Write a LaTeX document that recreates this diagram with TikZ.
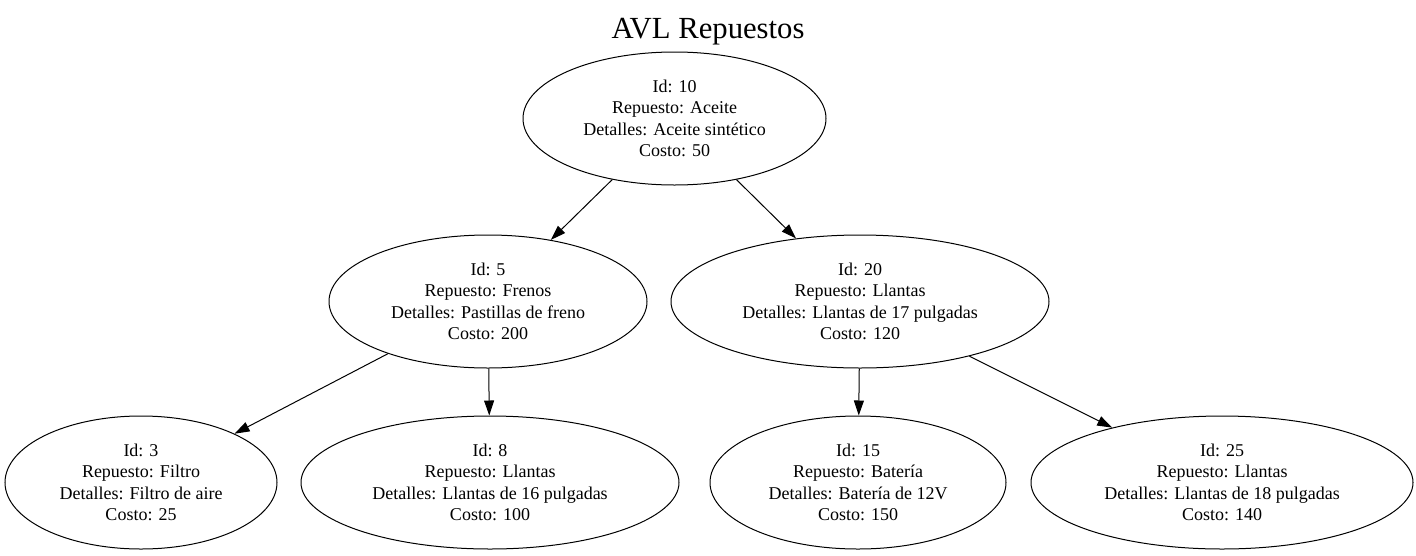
\documentclass[tikz,border=0pt]{standalone}
\usepackage{fontspec}
\setmainfont{Liberation Serif}
\usetikzlibrary{shapes.geometric,arrows.meta}

\tikzset{every picture/.style={line width=1pt}}
\tikzset{repuesto/.style={draw, ellipse, inner sep=0pt, align=center, font=\fontsize{18}{21.3}\selectfont}}
\tikzset{flecha/.style={-{Triangle[length=15pt,width=10pt]}, line width=1pt}}

\begin{document}
\begin{tikzpicture}[x=1pt,y=1pt,yscale=-1,xscale=1]
\useasboundingbox (0,0) rectangle (1416,555);

% Title
\node (titulo) at (708,32) [inner sep=0pt] {\fontsize{30.7}{36}\selectfont AVL Repuestos};

% Ellipse [id10]
\node (n10) at (674.5,118.5) [repuesto, minimum width=303, minimum height=133] {Id: 10\\Repuesto: Aceite\\Detalles: Aceite sintético\\Costo: 50};
% Ellipse [id5]
\node (n5) at (488,301.5) [repuesto, minimum width=318, minimum height=133] {Id: 5\\Repuesto: Frenos\\Detalles: Pastillas de freno\\Costo: 200};
% Ellipse [id20]
\node (n20) at (860,301.5) [repuesto, minimum width=378, minimum height=133] {Id: 20\\Repuesto: Llantas\\Detalles: Llantas de 17 pulgadas\\Costo: 120};
% Ellipse [id3]
\node (n3) at (141,482.5) [repuesto, minimum width=272, minimum height=133] {Id: 3\\Repuesto: Filtro\\Detalles: Filtro de aire\\Costo: 25};
% Ellipse [id8]
\node (n8) at (490,482.5) [repuesto, minimum width=378, minimum height=133] {Id: 8\\Repuesto: Llantas\\Detalles: Llantas de 16 pulgadas\\Costo: 100};
% Ellipse [id15]
\node (n15) at (858,482.5) [repuesto, minimum width=296, minimum height=133] {Id: 15\\Repuesto: Batería\\Detalles: Batería de 12V\\Costo: 150};
% Ellipse [id25]
\node (n25) at (1222,482.5) [repuesto, minimum width=382, minimum height=133] {Id: 25\\Repuesto: Llantas\\Detalles: Llantas de 18 pulgadas\\Costo: 140};

%Straight Lines
\draw [flecha] (n10) -- (n5);
\draw [flecha] (n10) -- (n20);
\draw [flecha] (n5) -- (n3);
\draw [flecha] (n5) -- (n8);
\draw [flecha] (n20) -- (n15);
\draw [flecha] (n20) -- (n25);

\end{tikzpicture}
\end{document}
